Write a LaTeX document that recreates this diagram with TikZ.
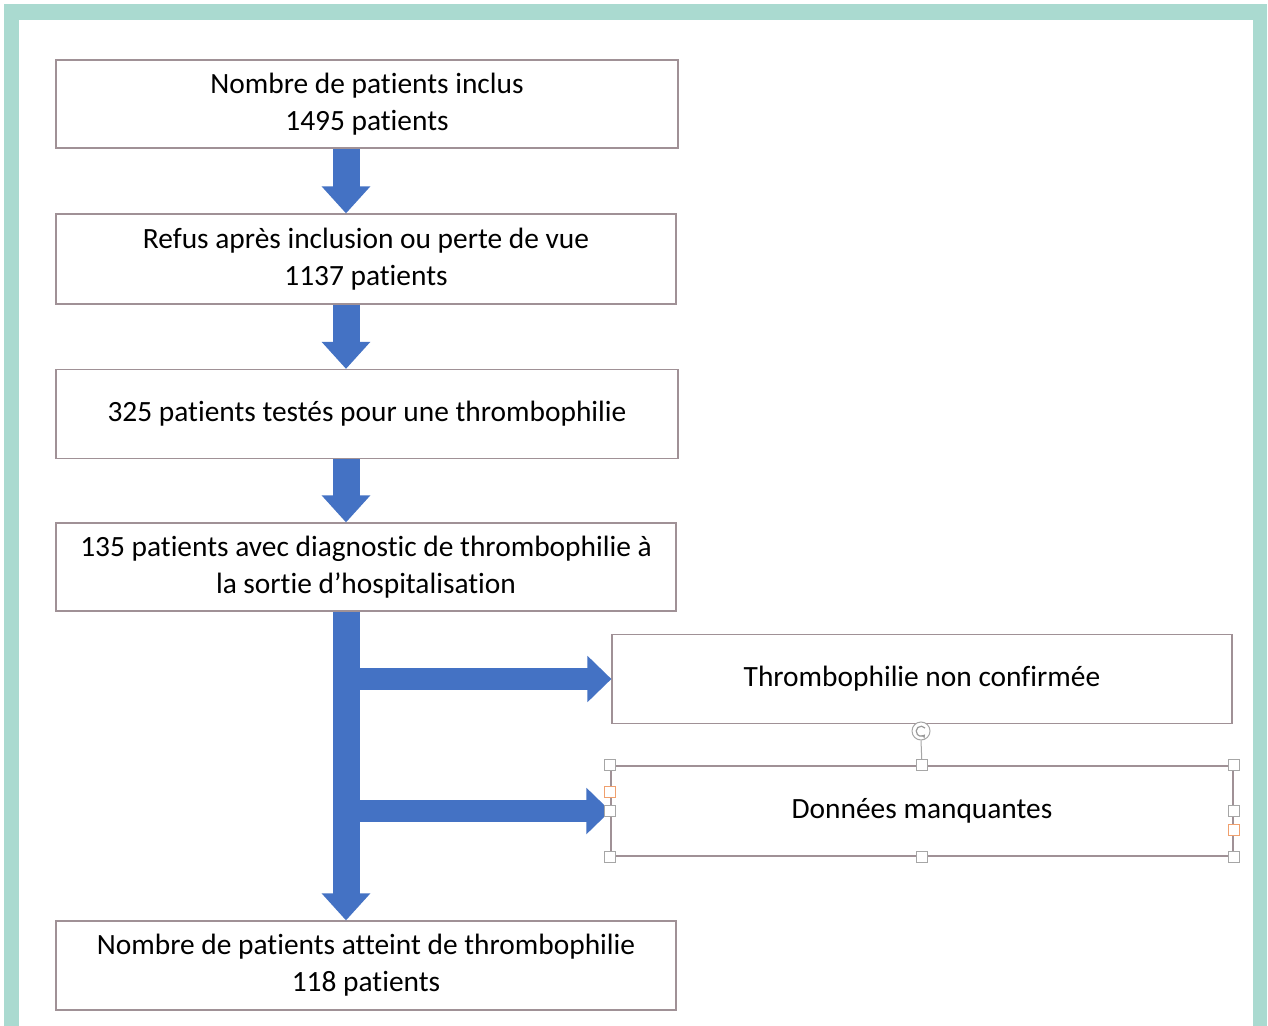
\documentclass[tikz,border=0pt]{standalone}
\usepackage{fontspec}
\setmainfont{Carlito}[Ligatures=NoCommon]
\usetikzlibrary{arrows.meta,calc}
\definecolor{teal1}{RGB}{170,218,208}
\definecolor{boxc}{RGB}{160,145,150}
\definecolor{arrblue}{RGB}{68,114,196}
\definecolor{hndor}{RGB}{240,160,110}
\begin{document}
\begin{tikzpicture}[x=0.5pt,y=-0.5pt,
  box/.style={draw=boxc,line width=0.6pt,fill=white,inner sep=0pt,align=center,
    font=\fontsize{14.7}{18.4}\selectfont,text=black},
  bigarrow/.style={draw=arrblue,line width=13.5pt,-{Triangle[width=23.5pt,length=13.5pt]}},
  sidearrow/.style={draw=arrblue,line width=11pt,-{Triangle[width=22.5pt,length=12pt]}},
  handle/.style={draw=gray!70,fill=white,line width=0.5pt,minimum size=5.5pt,inner sep=0pt},
  ohandle/.style={draw=hndor,fill=white,line width=0.5pt,minimum size=5.5pt,inner sep=0pt}]
\useasboundingbox (0,0) rectangle (1268,1026);
\fill[white] (0,0) rectangle (1268,1026);
\fill[teal1] (4,4) rectangle (1267,1026);
\fill[white] (19,20) rectangle (1253,1026);

\node[box,minimum width=311pt,minimum height=44pt] (b1) at (367,104) {Nombre de patients inclus\\1495 patients};
\node[box,minimum width=310pt,minimum height=45pt] (b2) at (366,259) {Refus après inclusion ou perte de vue\\1137 patients};
\node[box,minimum width=311pt,minimum height=44.5pt] (b3) at (367,414) {325 patients testés pour une thrombophilie};
\node[box,minimum width=310pt,minimum height=44pt] (b4) at (366,567) {135 patients avec diagnostic de thrombophilie à\\la sortie d’hospitalisation};
\node[box,minimum width=310pt,minimum height=44.5pt] (b5) at (922,679) {Thrombophilie non confirmée};
\node[box,minimum width=311pt,minimum height=45pt] (b6) at (922,811) {Données manquantes};
\node[box,minimum width=310pt,minimum height=44.5pt] (b7) at (366,965.5) {Nombre de patients atteint de thrombophilie\\118 patients};

\coordinate (ax) at (346,0);
\coordinate (bx) at (343,0);

\draw[bigarrow] (b1.south -| ax) -- (b2.north -| ax);
\draw[bigarrow] (b2.south -| ax) -- (b3.north -| ax);
\draw[bigarrow] (b3.south -| ax) -- (b4.north -| ax);
\draw[bigarrow] (b4.south -| ax) -- (b7.north -| ax);
\draw[sidearrow] (bx |- b5.west) -- (b5.west);
\draw[sidearrow] (bx |- b6.west) -- (b6.west);

% selection handles
\node[circle,draw=gray!70,fill=white,line width=0.5pt,minimum size=9pt,inner sep=0pt] (rot) at (921,731) {};
\draw[gray!70,line width=0.5pt] (rot.south) -- (b6.north);
\draw[gray!80,line width=0.6pt,-{Stealth[length=2pt,width=2.5pt]}] ($(rot)+(4,-3)$) arc[start angle=40,end angle=320,radius=2.5pt];
\node[handle] (hnw) at (b6.north west) {};
\node[handle] (hn) at (b6.north) {};
\node[handle] (hne) at (b6.north east) {};
\node[handle] (hsw) at (b6.south west) {};
\node[handle] (hs) at (b6.south) {};
\node[handle] (hse) at (b6.south east) {};
\node[handle] (hw) at (b6.west) {};
\node[handle] (he) at (b6.east) {};
\node[ohandle] (ow) at ($(b6.west)+(0,-19)$) {};
\node[ohandle] (oe) at ($(b6.east)+(0,19)$) {};
\end{tikzpicture}
\end{document}
